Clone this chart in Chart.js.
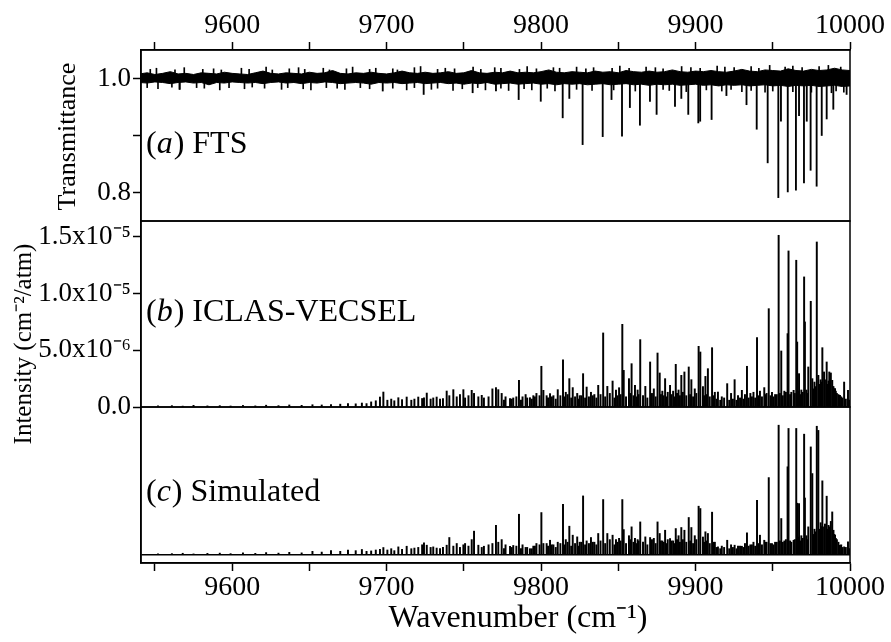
<!DOCTYPE html>
<html>
<head>
<meta charset="utf-8">
<script src="https://cdn.jsdelivr.net/npm/chart.js@4.4.1/dist/chart.umd.min.js"></script>
<style>
  html, body { margin: 0; padding: 0; background: #fff; }
  canvas { display: block; }
</style>
</head>
<body>
<canvas id="spectra" width="891" height="642"></canvas>
<script>
// line positions (cm-1) shared by the ICLAS and simulated panels
const lineWn = [
  9552, 9561, 9568, 9575, 9584, 9592, 9599, 9607, 9615, 9622,
  9630, 9637, 9645, 9652, 9658, 9664, 9670, 9675, 9680, 9684,
  9687, 9690, 9693, 9695.7, 9697.9, 9700.5, 9703, 9705, 9707.6, 9710,
  9713, 9716, 9718, 9720.5, 9723, 9724.2, 9726, 9728.5, 9730.2, 9732.4,
  9734.6, 9736.5, 9738.9, 9740.6, 9743.2, 9745.4, 9747.5, 9749.7, 9750.8, 9753,
  9755.1, 9756.6, 9759.4, 9761.6, 9763, 9766, 9768.5, 9770.8, 9772.3, 9774.5,
  9777, 9779.9, 9782, 9785.7, 9788, 9790, 9792.8, 9795, 9797, 9800.2,
  9801.5, 9803.6, 9805.8, 9808, 9810.8, 9814.2, 9816, 9818.3, 9820.5, 9823.4,
  9825, 9827.2, 9829.5, 9832.3, 9834.5, 9837, 9840.2, 9842.9, 9846.3, 9848.5,
  9850.5, 9852.6, 9853.5, 9856.9, 9858.6, 9860.8, 9862.5, 9864.2, 9867.5, 9870.6,
  9873, 9875.4, 9876.8, 9878.5, 9880.3, 9882, 9883.5, 9885.5, 9887.2, 9889,
  9890.8, 9892.8, 9895.6, 9897.3, 9899.5, 9902, 9903.1, 9904.8, 9906.4, 9908,
  9910.7, 9912.5, 9914.5, 9917, 9920.5, 9923, 9925.3, 9927.5, 9930, 9932,
  9933.3, 9935.5, 9937.5, 9939.8, 9941.7, 9944.5, 9946, 9947.4, 9949.5, 9951.5,
  9953.8, 9955.5, 9957.5, 9959.6, 9960.2, 9962, 9963.5, 9965.2, 9965.8, 9967,
  9968.5, 9970.3, 9970.8, 9973, 9974.6, 9975.6, 9977, 9978.5, 9979.5, 9981,
  9982.1, 9983.2, 9984.9, 9986.6, 9987.6, 9988.5, 9989.3, 9990.3, 9991.5, 9993.5,
  9995, 9996.2, 9998.7
];

// (b) ICLAS-VECSEL intensities, in units of 1e-6 cm-2/atm
const iclasE6 = [
  0.10, 0.12, 0.08, 0.15, 0.10, 0.12, 0.09, 0.14, 0.10, 0.16,
  0.12, 0.18, 0.15, 0.20, 0.18, 0.22, 0.25, 0.30, 0.28, 0.35,
  0.30, 0.45, 0.55, 0.88, 1.32, 0.60, 0.70, 0.55, 0.82, 0.65,
  0.88, 0.60, 0.70, 0.88, 0.75, 0.80, 1.23, 0.70, 0.80, 0.88,
  0.70, 0.75, 1.41, 1.00, 1.53, 0.90, 1.10, 1.53, 0.80, 1.00,
  1.47, 1.20, 0.90, 1.03, 0.80, 0.90, 1.60, 1.71, 1.53, 1.20,
  0.90, 0.74, 0.80, 2.35, 0.90, 1.10, 0.82, 1.00, 1.20, 3.59,
  1.47, 1.00, 1.18, 1.00, 1.53, 4.17, 1.30, 2.50, 1.71, 1.20,
  1.00, 2.94, 1.76, 1.30, 1.10, 1.91, 6.53, 1.82, 2.29, 1.50,
  1.70, 7.29, 3.23, 2.50, 3.82, 1.91, 1.50, 5.94, 1.82, 3.97,
  1.60, 4.76, 3.00, 1.40, 2.50, 1.30, 1.91, 1.40, 3.76, 1.50,
  2.79, 3.09, 3.53, 2.41, 1.60, 5.35, 4.85, 1.80, 2.70, 3.38,
  5.23, 1.30, 1.32, 0.90, 2.06, 1.20, 2.41, 1.00, 1.47, 1.10,
  3.59, 1.20, 1.30, 6.11, 1.40, 1.71, 1.20, 8.67, 1.30, 1.10,
  15.14, 4.94, 1.40, 6.47, 13.76, 1.30, 1.47, 12.94, 5.73, 2.94,
  1.50, 11.47, 7.50, 3.53, 9.32, 2.50, 2.20, 14.55, 2.79, 2.40,
  5.23, 3.09, 3.97, 3.09, 3.00, 2.35, 1.80, 1.62, 1.20, 1.03,
  0.80, 2.20, 1.47
];

// (c) simulated spectrum, relative intensity
const simRel = [
  0.010, 0.012, 0.015, 0.010, 0.014, 0.016, 0.012, 0.018, 0.014, 0.020,
  0.016, 0.022, 0.018, 0.030, 0.024, 0.035, 0.030, 0.040, 0.035, 0.044,
  0.030, 0.033, 0.040, 0.045, 0.059, 0.040, 0.050, 0.035, 0.064, 0.045,
  0.069, 0.050, 0.055, 0.060, 0.080, 0.095, 0.077, 0.060, 0.064, 0.055,
  0.051, 0.060, 0.077, 0.136, 0.070, 0.090, 0.060, 0.080, 0.090, 0.070,
  0.120, 0.185, 0.077, 0.060, 0.069, 0.080, 0.090, 0.230, 0.100, 0.120,
  0.080, 0.069, 0.075, 0.315, 0.080, 0.060, 0.050, 0.070, 0.090, 0.328,
  0.090, 0.090, 0.115, 0.080, 0.100, 0.392, 0.120, 0.223, 0.154, 0.141,
  0.100, 0.456, 0.110, 0.136, 0.100, 0.167, 0.428, 0.167, 0.154, 0.120,
  0.130, 0.428, 0.197, 0.150, 0.218, 0.130, 0.120, 0.256, 0.141, 0.136,
  0.130, 0.256, 0.167, 0.110, 0.192, 0.120, 0.128, 0.110, 0.205, 0.150,
  0.213, 0.192, 0.290, 0.213, 0.150, 0.377, 0.359, 0.140, 0.180, 0.167,
  0.331, 0.100, 0.064, 0.070, 0.115, 0.080, 0.077, 0.070, 0.069, 0.090,
  0.172, 0.080, 0.100, 0.423, 0.154, 0.115, 0.100, 0.597, 0.090, 0.100,
  1.000, 0.282, 0.110, 0.680, 0.975, 0.100, 0.115, 0.975, 0.400, 0.397,
  0.150, 0.931, 0.440, 0.218, 0.833, 0.628, 0.200, 0.992, 0.960, 0.250,
  0.572, 0.218, 0.454, 0.218, 0.260, 0.333, 0.192, 0.154, 0.120, 0.077,
  0.060, 0.064, 0.103
];

// weak, crowded lines that make the dark carpet near the baselines of (b) and (c)
const carpetWn = [
  9776, 9781, 9784, 9787, 9791, 9794, 9796, 9799, 9804.5, 9807,
  9809.5, 9812.5, 9815, 9817.2, 9819.5, 9822, 9824.2, 9826, 9828.5, 9831,
  9833.5, 9835.8, 9838.5, 9841.5, 9844.5, 9847.5, 9849.5, 9851.5, 9855, 9857.8,
  9859.8, 9861.8, 9863.2, 9866, 9868.8, 9871.8, 9874.2, 9877.6, 9879.4, 9881.2,
  9884.5, 9886.3, 9888, 9889.9, 9891.8, 9894, 9896.5, 9898.4, 9900.5, 9905.5,
  9907.2, 9909.2, 9911.6, 9913.5, 9916, 9918.5, 9921.8, 9924.2, 9926.5, 9928.8,
  9931, 9934.4, 9936.5, 9938.6, 9940.8, 9943, 9945.2, 9948.5, 9950.5, 9952.6,
  9954.6, 9956.5, 9958.5, 9961.2, 9964.3, 9966.4, 9968, 9969.4, 9971.8, 9972.4,
  9976.2, 9977.8, 9980.3, 9981.6, 9983.8, 9985.6, 9986.1, 9987.1, 9988.9, 9989.8,
  9990.8, 9992.5, 9994.3, 9997.3, 9999.5
];
const carpetIclasE6 = [
  0.6, 0.7, 0.9, 0.6, 0.8, 0.7, 0.9, 1.0, 0.8, 0.9,
  0.7, 1.0, 0.9, 1.1, 0.8, 0.9, 0.7, 1.0, 0.8, 0.9,
  1.0, 0.8, 1.1, 0.9, 1.2, 0.8, 1.0, 1.1, 0.9, 1.2,
  1.0, 0.9, 1.1, 1.0, 0.8, 1.2, 0.9, 1.1, 1.0, 0.9,
  1.1, 0.9, 1.2, 1.0, 1.3, 1.0, 1.1, 0.9, 1.2, 1.0,
  1.1, 0.9, 1.0, 0.7, 0.6, 0.8, 0.6, 0.7, 0.6, 0.8,
  0.7, 0.8, 0.9, 0.8, 1.0, 0.9, 1.1, 1.0, 0.9, 1.1,
  1.2, 1.0, 1.3, 1.1, 1.2, 1.4, 1.1, 1.3, 1.5, 1.2,
  1.6, 1.8, 2.0, 2.2, 2.4, 2.0, 2.3, 2.1, 1.8, 1.6,
  1.4, 1.1, 0.9, 0.7, 0.6
];
const carpetSim = [
  0.05, 0.06, 0.07, 0.05, 0.06, 0.05, 0.07, 0.08, 0.07, 0.08,
  0.06, 0.09, 0.08, 0.10, 0.07, 0.09, 0.07, 0.10, 0.08, 0.09,
  0.10, 0.08, 0.11, 0.09, 0.12, 0.08, 0.10, 0.11, 0.09, 0.12,
  0.10, 0.09, 0.11, 0.10, 0.08, 0.12, 0.09, 0.11, 0.10, 0.09,
  0.11, 0.09, 0.12, 0.10, 0.12, 0.10, 0.11, 0.09, 0.12, 0.10,
  0.11, 0.09, 0.10, 0.06, 0.05, 0.06, 0.05, 0.06, 0.05, 0.07,
  0.06, 0.07, 0.08, 0.07, 0.09, 0.08, 0.10, 0.09, 0.08, 0.10,
  0.11, 0.10, 0.12, 0.11, 0.12, 0.14, 0.11, 0.13, 0.15, 0.12,
  0.16, 0.18, 0.20, 0.22, 0.24, 0.20, 0.23, 0.21, 0.18, 0.16,
  0.13, 0.10, 0.08, 0.06, 0.05
];

// (a) FTS absorption dips: position and transmittance at line centre
const ftsWn = [
  9566, 9697.5, 9724, 9755.7, 9770.8, 9785.5, 9799.8, 9814, 9818.3, 9826.9,
  9839.9, 9845.6, 9852.4, 9857.5, 9864, 9870.5, 9874.8, 9886.7, 9890.8, 9895.3,
  9901.8, 9903, 9910.4, 9920, 9933, 9939.6, 9946.7, 9953.6, 9955.3, 9959.7,
  9965, 9967, 9970.2, 9972, 9974.5, 9978.4, 9981.7, 9984.9, 9989.2, 9997.8
];
const ftsT = [
  0.981, 0.978, 0.972, 0.975, 0.978, 0.963, 0.960, 0.931, 0.965, 0.884,
  0.898, 0.963, 0.899, 0.949, 0.918, 0.960, 0.937, 0.951, 0.965, 0.937,
  0.922, 0.925, 0.928, 0.970, 0.954, 0.911, 0.852, 0.791, 0.925, 0.801,
  0.804, 0.935, 0.817, 0.925, 0.839, 0.811, 0.900, 0.929, 0.946, 0.972
];

// FTS baseline noise band: upper and lower edges
const noiseWn = [
  9540, 9545, 9550, 9555, 9560, 9565, 9570, 9575, 9580, 9585,
  9590, 9595, 9600, 9605, 9610, 9615, 9620, 9625, 9630, 9635,
  9640, 9645, 9650, 9655, 9660, 9665, 9670, 9675, 9680, 9685,
  9690, 9695, 9700, 9705, 9710, 9715, 9720, 9725, 9730, 9735,
  9740, 9745, 9750, 9755, 9760, 9765, 9770, 9775, 9780, 9785,
  9790, 9795, 9800, 9805, 9810, 9815, 9820, 9825, 9830, 9835,
  9840, 9845, 9850, 9855, 9860, 9865, 9870, 9875, 9880, 9885,
  9890, 9895, 9900, 9905, 9910, 9915, 9920, 9925, 9930, 9935,
  9940, 9945, 9950, 9955, 9960, 9965, 9970, 9975, 9980, 9985,
  9990, 9995, 10000
];
const noiseHigh = [
  1.008, 1.010, 1.007, 1.009, 1.012, 1.008, 1.009, 1.007, 1.010, 1.009,
  1.008, 1.011, 1.009, 1.008, 1.007, 1.010, 1.013, 1.009, 1.008, 1.010,
  1.009, 1.008, 1.011, 1.009, 1.010, 1.014, 1.009, 1.008, 1.010, 1.009,
  1.011, 1.009, 1.008, 1.010, 1.013, 1.010, 1.009, 1.011, 1.009, 1.010,
  1.012, 1.009, 1.010, 1.014, 1.010, 1.009, 1.011, 1.010, 1.013, 1.010,
  1.011, 1.010, 1.012, 1.015, 1.011, 1.010, 1.012, 1.011, 1.010, 1.013,
  1.011, 1.012, 1.010, 1.014, 1.012, 1.011, 1.013, 1.011, 1.012, 1.015,
  1.012, 1.011, 1.013, 1.012, 1.014, 1.012, 1.011, 1.013, 1.016, 1.013,
  1.012, 1.015, 1.014, 1.013, 1.017, 1.014, 1.013, 1.016, 1.014, 1.015,
  1.018, 1.015, 1.014
];
const noiseLow = [
  0.993, 0.992, 0.994, 0.993, 0.991, 0.993, 0.994, 0.992, 0.993, 0.989,
  0.993, 0.992, 0.994, 0.993, 0.992, 0.993, 0.991, 0.993, 0.994, 0.992,
  0.993, 0.991, 0.993, 0.992, 0.994, 0.993, 0.991, 0.992, 0.993, 0.992,
  0.990, 0.993, 0.992, 0.993, 0.991, 0.992, 0.993, 0.991, 0.992, 0.993,
  0.991, 0.992, 0.990, 0.992, 0.991, 0.993, 0.990, 0.991, 0.992, 0.990,
  0.991, 0.992, 0.990, 0.991, 0.989, 0.991, 0.990, 0.991, 0.989, 0.990,
  0.991, 0.989, 0.990, 0.991, 0.989, 0.990, 0.988, 0.990, 0.989, 0.990,
  0.988, 0.989, 0.990, 0.988, 0.989, 0.987, 0.989, 0.988, 0.989, 0.987,
  0.988, 0.989, 0.987, 0.988, 0.986, 0.988, 0.987, 0.988, 0.986, 0.987,
  0.988, 0.986, 0.987
];

// single noise spikes sticking out of the FTS band
const upSpikeWn = [
  9547, 9551, 9563, 9569, 9581, 9588, 9593, 9606, 9611, 9622,
  9626, 9637, 9643, 9647, 9659, 9663, 9674, 9678, 9689, 9693,
  9704, 9707, 9718, 9722, 9733, 9738, 9744, 9756, 9761, 9770,
  9774, 9786, 9791, 9797, 9808, 9812, 9823, 9829, 9834, 9846,
  9851, 9857, 9868, 9874, 9879, 9891, 9897, 9903, 9914, 9919,
  9925, 9936, 9941, 9948, 9958, 9963, 9969, 9980, 9986, 9994
];
const upSpikeT = [
  1.016, 1.018, 1.015, 1.019, 1.016, 1.017, 1.015, 1.018, 1.016, 1.020,
  1.015, 1.017, 1.019, 1.016, 1.018, 1.015, 1.017, 1.020, 1.016, 1.018,
  1.017, 1.015, 1.019, 1.021, 1.016, 1.018, 1.017, 1.020, 1.016, 1.019,
  1.018, 1.016, 1.021, 1.017, 1.019, 1.018, 1.020, 1.017, 1.019, 1.018,
  1.022, 1.018, 1.020, 1.019, 1.017, 1.021, 1.019, 1.018, 1.022, 1.020,
  1.019, 1.021, 1.018, 1.023, 1.020, 1.022, 1.019, 1.021, 1.023, 1.020
];
const downSpikeWn = [
  9545, 9552, 9561, 9566, 9577, 9582, 9592, 9598, 9608, 9613,
  9621, 9632, 9636, 9646, 9651, 9661, 9668, 9673, 9683, 9689,
  9704, 9713, 9718, 9729, 9733, 9743, 9749, 9759, 9764, 9774,
  9779, 9789, 9794, 9804, 9809, 9823, 9833, 9847, 9861, 9879,
  9883, 9894, 9907, 9917, 9923, 9930, 9936, 9945, 9950, 9963,
  9975, 9988, 9991, 9996
];
const downSpikeT = [
  0.984, 0.982, 0.985, 0.981, 0.984, 0.983, 0.980, 0.984, 0.982, 0.985,
  0.983, 0.981, 0.984, 0.982, 0.980, 0.984, 0.983, 0.981, 0.984, 0.982,
  0.983, 0.980, 0.984, 0.981, 0.983, 0.979, 0.982, 0.984, 0.980, 0.983,
  0.979, 0.982, 0.980, 0.983, 0.978, 0.981, 0.979, 0.980, 0.978, 0.981,
  0.979, 0.977, 0.980, 0.978, 0.981, 0.977, 0.979, 0.976, 0.978, 0.977,
  0.976, 0.975, 0.978, 0.976
];

// axis ticks (empty label = minor tick)
const transTicks = [0.8, 0.9, 1.0];
const transTickLabels = ['0.8', '', '1.0'];
const intensityTicks = [0, 2.5, 5, 7.5, 10, 12.5, 15];
const intensityTickLabels = ['0.0', '', '5.0x10\u207B\u2076', '', '1.0x10\u207B\u2075', '', '1.5x10\u207B\u2075'];

const panelLabels = [
  { axis: 'yT', y: 0.87, letter: 'a', text: ') FTS' },
  { axis: 'yI', y: 7.6, letter: 'b', text: ') ICLAS-VECSEL' },
  { axis: 'yS', y: 0.42, letter: 'c', text: ') Simulated' }
];

const SERIF = "'Liberation Serif', 'Times New Roman', Times, serif";
Chart.defaults.font.family = SERIF;
Chart.defaults.color = '#000';

const axisLine = { display: true, color: '#000', width: 1.5 };
const tickGrid = { drawOnChartArea: false, drawTicks: true, tickLength: 8, tickColor: '#000', tickWidth: 1.5, offset: false };
const bars = { type: 'bar', xAxisID: 'x', backgroundColor: '#000', borderWidth: 0, barThickness: 1.3, grouped: false };

function xAxis(position, height) {
    return {
        type: 'linear', position, min: 9541, max: 10000, offset: false,
        grid: tickGrid, border: axisLine,
        ticks: {
            stepSize: 50, includeBounds: false, autoSkip: false, maxRotation: 0, padding: 0,
            font: { size: 28 },
            callback: v => (v % 100 === 0 ? String(v) : '')
        },
        afterFit: s => { s.height = height; }
    };
}

function yAxis(weight, stackWeight, min, max, tickValues, tickLabels) {
    return {
        type: 'linear', position: 'left', stack: 'panels', stackWeight, weight, min, max,
        grid: tickGrid, border: axisLine,
        afterBuildTicks: s => { s.ticks = tickValues.map(value => ({ value })); },
        ticks: { padding: 2, font: { size: 27 }, callback: (v, i) => tickLabels[i] },
        afterFit: s => { s.width = 141; }
    };
}

const decorations = {
    id: 'decorations',
    afterDraw(chart) {
        const { ctx, chartArea, scales } = chart;
        ctx.save();
        ctx.strokeStyle = '#000';
        ctx.lineWidth = 1.5;
        ['yT', 'yI', 'yS'].forEach(id => {
            const s = scales[id];
            ctx.strokeRect(chartArea.left, s.top, chartArea.right - chartArea.left, s.bottom - s.top);
        });

        ctx.fillStyle = '#000';
        ctx.textBaseline = 'alphabetic';
        panelLabels.forEach(p => {
            let x = chartArea.left + 5;
            const y = scales[p.axis].getPixelForValue(p.y);
            ctx.font = `32px ${SERIF}`;
            ctx.fillText('(', x, y);
            x += ctx.measureText('(').width;
            ctx.font = `italic 32px ${SERIF}`;
            ctx.fillText(p.letter, x, y);
            x += ctx.measureText(p.letter).width + 1;
            ctx.font = `32px ${SERIF}`;
            ctx.fillText(p.text, x, y);
        });

        // axis titles
        ctx.textAlign = 'center';
        ctx.font = `32px ${SERIF}`;
        ctx.fillText('Wavenumber (cm\u207B\u00B9)', 518, 627);

        ctx.textBaseline = 'middle';
        ctx.save();
        ctx.translate(68, (scales.yT.top + scales.yT.bottom) / 2 + 1);
        ctx.rotate(-Math.PI / 2);
        ctx.font = `26px ${SERIF}`;
        ctx.fillText('Transmittance', 0, 0);
        ctx.restore();

        ctx.save();
        ctx.translate(24, 344);
        ctx.rotate(-Math.PI / 2);
        ctx.font = `25px ${SERIF}`;
        ctx.fillText('Intensity (cm\u207B\u00B2/atm)', 0, 0);
        ctx.restore();
        ctx.restore();
    }
};

new Chart(document.getElementById('spectra'), {
    type: 'bar',
    data: {
        datasets: [
            {
                type: 'line', xAxisID: 'x', yAxisID: 'yT',
                data: noiseWn.map((x, i) => ({ x, y: noiseHigh[i] })),
                borderColor: '#000', borderWidth: 1, pointRadius: 0, tension: 0,
                fill: '+1', backgroundColor: '#000'
            },
            {
                type: 'line', xAxisID: 'x', yAxisID: 'yT',
                data: noiseWn.map((x, i) => ({ x, y: noiseLow[i] })),
                borderColor: '#000', borderWidth: 1, pointRadius: 0, tension: 0, fill: false
            },
            { ...bars, barThickness: 1, yAxisID: 'yT', data: upSpikeWn.map((x, i) => ({ x, y: [1.0, upSpikeT[i]] })) },
            { ...bars, barThickness: 1, yAxisID: 'yT', data: downSpikeWn.map((x, i) => ({ x, y: [1.0, downSpikeT[i]] })) },
            { ...bars, barThickness: 1.2, yAxisID: 'yT', data: ftsWn.map((x, i) => ({ x, y: [0.995, ftsT[i]] })) },
            { ...bars, yAxisID: 'yI', data: carpetWn.map((x, i) => ({ x, y: carpetIclasE6[i] })) },
            { ...bars, yAxisID: 'yI', data: lineWn.map((x, i) => ({ x, y: iclasE6[i] })) },
            { ...bars, yAxisID: 'yS', data: carpetWn.map((x, i) => ({ x, y: carpetSim[i] })) },
            { ...bars, yAxisID: 'yS', data: lineWn.map((x, i) => ({ x, y: simRel[i] })) }
        ]
    },
    options: {
        responsive: false,
        animation: false,
        devicePixelRatio: 1,
        events: [],
        layout: { padding: { left: 0, right: 41, top: 0, bottom: 0 } },
        plugins: { legend: { display: false }, tooltip: { enabled: false } },
        scales: {
            x: xAxis('bottom', 79),
            x2: xAxis('top', 50),
            yT: yAxis(3, 171, 0.75, 1.05, transTicks, transTickLabels),
            yI: yAxis(2, 186, 0, 16.4, intensityTicks, intensityTickLabels),
            yS: {
                type: 'linear', position: 'left', stack: 'panels', stackWeight: 156, weight: 1,
                min: -0.06, max: 1.14,
                border: axisLine,
                // only the zero line is shown: the baseline of the simulated spectrum
                afterBuildTicks: s => { s.ticks = [{ value: 0 }]; },
                grid: { drawOnChartArea: true, drawTicks: false, lineWidth: 1.5, color: '#000' },
                ticks: { display: false },
                afterFit: s => { s.width = 141; }
            }
        }
    },
    plugins: [decorations]
});
</script>
</body>
</html>
